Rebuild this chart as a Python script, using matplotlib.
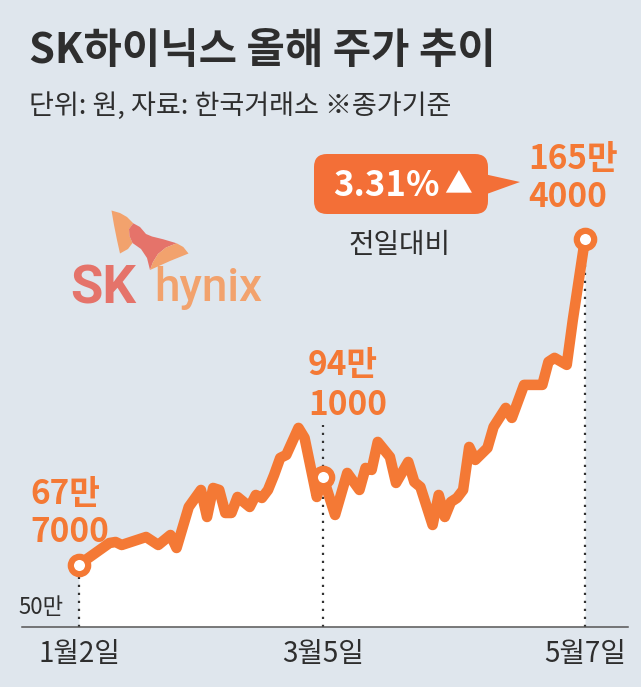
import matplotlib
matplotlib.use("Agg")
import matplotlib.pyplot as plt
from matplotlib.patches import FancyBboxPatch, Polygon

plt.rcParams['font.family'] = ['Noto Sans CJK KR', 'DejaVu Sans']

# ---- data (trading-day index from Jan 2, closing price in KRW) ----
days = [0, 5, 6, 7, 11, 13, 15, 16, 18, 20,
        21, 22, 23, 24, 25, 26, 28, 29, 30, 31,
        32, 33, 34, 36, 37, 39, 40, 42, 44, 46,
        47, 48, 49, 51, 52, 54, 55, 56, 58, 59,
        60, 61, 62, 63, 64, 65, 67, 68, 70, 71,
        73, 76, 77, 78, 80, 81, 83]
prices = [677000, 742000, 745000, 736000, 760000, 736000, 766000, 727000, 850000, 901000,
          820000, 907000, 901000, 832000, 832000, 880000, 850000, 886000, 877000, 901000,
          946000, 997000, 1006000, 1087000, 1057000, 880000, 941000, 826000, 952000, 901000,
          967000, 961000, 1045000, 1000000, 922000, 985000, 925000, 910000, 796000, 886000,
          820000, 865000, 877000, 901000, 1030000, 991000, 1027000, 1090000, 1147000, 1117000,
          1216000, 1216000, 1285000, 1297000, 1276000, 1411000, 1654000]

tick_days = [0, 40, 83]
tick_labels = ['1월2일', '3월5일', '5월7일']
marked_days = [0, 40, 83]
marked_prices = [677000, 941000, 1654000]
marked_top = ['67만', '94만', '165만']
marked_bottom = ['7000', '1000', '4000']
dotted_tops = [677000, 1096000, 1581000]

title = 'SK하이닉스 올해 주가 추이'
subtitle = '단위: 원, 자료: 한국거래소 ※종가기준'
base_label = '50만'
change_text = '3.31%'
change_note = '전일대비'

BG = '#dfe6ed'
ORANGE = '#f47935'
BOX = '#f36f37'
DARK = '#2e2e2e'

fig = plt.figure(figsize=(6.41, 6.87), dpi=100, facecolor=BG)
ax = fig.add_axes([22 / 641, 60 / 687, 606 / 641, 497 / 687])
ax.set_facecolor('none')
ymin, ymax = 490150, 1980100
ax.set_xlim(-9.35, 90.05)
ax.set_ylim(ymin, ymax)

ax.fill_between(days, prices, ymin, color='white', lw=0, zorder=1)
ax.vlines(marked_days, ymin, dotted_tops, colors='#333333', lw=1.6,
          linestyles=(0, (1.0, 2.6)), zorder=2)
ax.plot(days, prices, color=ORANGE, lw=7.6, solid_joinstyle='round',
        solid_capstyle='round', zorder=3)
ax.plot(marked_days, marked_prices, 'o', ms=12.5, mfc='white', mec=ORANGE,
        mew=4.5, zorder=4)

for sp in ['top', 'left', 'right']:
    ax.spines[sp].set_visible(False)
ax.spines['bottom'].set_color('#555555')
ax.spines['bottom'].set_linewidth(1.1)
ax.set_yticks([])
ax.set_xticks(tick_days)
ax.set_xticklabels(tick_labels, fontsize=20, color=DARK)
ax.tick_params(axis='x', length=0, pad=9)

offsets = [(-49, 70, 32), (-15, 111, 71), (-57, 79, 41)]
for d, p, t1, t2, (dx, dy1, dy2) in zip(marked_days, marked_prices, marked_top,
                                        marked_bottom, offsets):
    ax.annotate(t1, xy=(d, p), xytext=(dx, dy1), textcoords='offset pixels',
                ha='left', va='center', fontsize=24, fontweight='bold', color=ORANGE)
    ax.annotate(t2, xy=(d, p), xytext=(dx, dy2), textcoords='offset pixels',
                ha='left', va='center', fontsize=24, fontweight='bold', color=ORANGE)

# ---- overlay in pixel coordinates for decorations ----
ov = fig.add_axes([0, 0, 1, 1])
ov.set_xlim(0, 641)
ov.set_ylim(687, 0)
ov.axis('off')
ov.patch.set_alpha(0)

ov.text(29, 51, title, fontsize=30, fontweight='bold', color=DARK, ha='left', va='center')
ov.text(29, 106, subtitle, fontsize=19.5, color=DARK, ha='left', va='center')
ov.text(18, 607, base_label, fontsize=16, color=DARK, ha='left', va='center')

# callout
ov.add_patch(FancyBboxPatch((314, 154), 174, 60,
                            boxstyle='round,pad=0,rounding_size=13',
                            fc=BOX, ec='none'))
ov.add_patch(Polygon([(484, 174), (520, 182), (484, 195)], closed=True, fc=BOX, ec='none'))
ov.text(333, 185, change_text, fontsize=25, fontweight='bold', color='white',
        ha='left', va='center')
ov.text(458, 185, '▲', fontsize=20, color='white', ha='center', va='center')
ov.text(400, 245, change_note, fontsize=20, color=DARK, ha='center', va='center')

# SK hynix logo
PEACH = '#f2a26d'
CORAL = '#e5736a'
ov.add_patch(Polygon([(111.5, 210.5), (120, 213), (127, 217), (133.3, 223.3),
                      (129, 229), (129.5, 236), (132.5, 243), (128, 249),
                      (120, 253.5), (117, 240), (114, 225)],
                     closed=True, fc=PEACH, ec='none'))
ov.add_patch(Polygon([(133.3, 223.3), (140, 227), (146, 234), (152, 236.5),
                      (163.3, 239.3), (176.7, 243.3), (166, 247.5), (158, 254),
                      (153, 262), (150, 270), (147, 258), (141, 249),
                      (132.5, 243), (129.5, 236), (129, 229)],
                     closed=True, fc=CORAL, ec='none'))
ov.add_patch(Polygon([(176.7, 243.3), (183.3, 247), (188.5, 253.5), (170, 261),
                      (150, 270), (153, 262), (158, 254), (166, 247.5)],
                     closed=True, fc=PEACH, ec='none'))
ov.text(70, 303, 'SK', fontsize=38, fontweight='bold', color=CORAL,
        family=['Roboto', 'DejaVu Sans'], ha='left', va='baseline')
ov.text(154, 301, 'hynix', fontsize=33, fontweight='medium', color=PEACH,
        family=['Roboto', 'DejaVu Sans'], ha='left', va='baseline')

fig.savefig('out.png', dpi=100, facecolor=BG)
